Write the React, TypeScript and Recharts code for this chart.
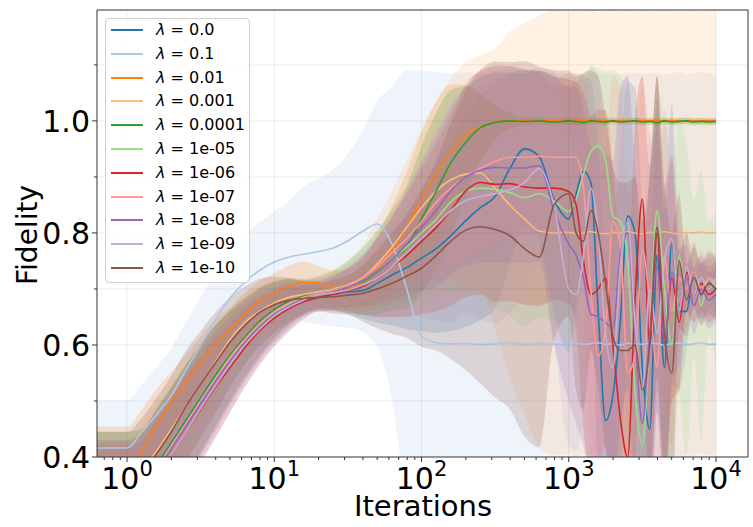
import React from 'react';
import { ComposedChart, Line, Area, XAxis, YAxis, ReferenceLine, Customized } from 'recharts';

// Iteration sample points (log-spaced)
const iterations = [
  0.625, 1, 1.26, 1.58, 2, 2.51, 3.16, 3.98, 5.01, 6.31,
  7.94, 10, 12.6, 15.8, 20, 25.1, 31.6, 39.8, 50.1, 63.1,
  79.4, 100, 126, 158, 200, 251, 316, 398, 501, 631,
  794, 1000, 1122, 1259, 1413, 1585, 1778, 1995, 2239, 2512,
  2818, 3162, 3548, 3981, 4467, 5012, 5623, 6310, 7079, 7943,
  8913, 10000,
];

const lambdaLabels = ['0.0', '0.1', '0.01', '0.001', '0.0001', '1e-05', '1e-06', '1e-07', '1e-08', '1e-09', '1e-10'];
const colors = ['#1f77b4', '#aec7e8', '#ff7f0e', '#ffbb78', '#2ca02c', '#98df8a', '#d62728', '#ff9896', '#9467bd', '#c5b0d5', '#8c564b'];

// λ = 0.0
const meanL0 = [
  0.335, 0.335, 0.35, 0.385, 0.425, 0.465, 0.505, 0.545, 0.58, 0.612,
  0.64, 0.662, 0.677, 0.686, 0.69, 0.693, 0.695, 0.697, 0.71, 0.725,
  0.738, 0.755, 0.772, 0.795, 0.822, 0.845, 0.865, 0.915, 0.95, 0.936,
  0.86, 0.825, 0.87, 0.91, 0.89, 0.66, 0.465, 0.51, 0.64, 0.83,
  0.8, 0.56, 0.45, 0.76, 0.56, 0.78, 0.66, 0.66, 0.73, 0.69,
  0.71, 0.7,
];
const stdL0 = [
  0.09, 0.09, 0.095, 0.1, 0.1, 0.1, 0.095, 0.09, 0.08, 0.07,
  0.06, 0.05, 0.04, 0.03, 0.025, 0.03, 0.04, 0.05, 0.07, 0.09,
  0.11, 0.13, 0.15, 0.17, 0.19, 0.2, 0.2, 0.17, 0.14, 0.15,
  0.2, 0.24, 0.2, 0.17, 0.18, 0.3, 0.3, 0.3, 0.3, 0.24,
  0.26, 0.3, 0.3, 0.28, 0.3, 0.25, 0.14, 0.07, 0.05, 0.05,
  0.045, 0.045,
];

// λ = 0.1
const meanL1 = [
  0.416, 0.416, 0.445, 0.475, 0.51, 0.555, 0.6, 0.645, 0.684, 0.712,
  0.733, 0.748, 0.757, 0.762, 0.767, 0.773, 0.786, 0.803, 0.816, 0.78,
  0.7, 0.615, 0.604, 0.602, 0.603, 0.601, 0.602, 0.604, 0.601, 0.603,
  0.602, 0.6, 0.603, 0.601, 0.602, 0.604, 0.601, 0.602, 0.6, 0.603,
  0.602, 0.601, 0.603, 0.602, 0.6, 0.602, 0.603, 0.601, 0.602, 0.604,
  0.601, 0.602,
];
const stdL1 = [
  0.085, 0.085, 0.085, 0.085, 0.085, 0.085, 0.085, 0.085, 0.085, 0.085,
  0.085, 0.09, 0.1, 0.12, 0.13, 0.14, 0.155, 0.18, 0.22, 0.28,
  0.39, 0.475, 0.483, 0.483, 0.484, 0.483, 0.482, 0.483, 0.484, 0.483,
  0.483, 0.484, 0.482, 0.483, 0.483, 0.484, 0.483, 0.482, 0.483, 0.484,
  0.483, 0.483, 0.482, 0.484, 0.483, 0.483, 0.484, 0.482, 0.483, 0.483,
  0.484, 0.483,
];

// λ = 0.01
const meanL2 = [
  0.37, 0.37, 0.41, 0.455, 0.497, 0.533, 0.567, 0.6, 0.627, 0.655,
  0.678, 0.692, 0.705, 0.712, 0.711, 0.703, 0.7, 0.712, 0.735, 0.77,
  0.81, 0.86, 0.905, 0.945, 0.975, 0.99, 0.998, 1.0, 1.0, 1.0,
  1.0, 1.0, 1.0, 1.0, 1.0, 1.0, 1.0, 1.0, 1.0, 1.0,
  1.0, 1.0, 1.0, 1.0, 1.0, 1.0, 1.0, 1.0, 1.0, 1.0,
  1.0, 1.0,
];
const stdL2 = [
  0.084, 0.084, 0.075, 0.065, 0.055, 0.05, 0.048, 0.045, 0.04, 0.038,
  0.036, 0.036, 0.037, 0.037, 0.03, 0.03, 0.035, 0.045, 0.06, 0.08,
  0.1, 0.12, 0.13, 0.12, 0.09, 0.06, 0.03, 0.012, 0.005, 0.005,
  0.005, 0.005, 0.005, 0.005, 0.005, 0.005, 0.005, 0.005, 0.005, 0.005,
  0.005, 0.005, 0.005, 0.005, 0.005, 0.005, 0.005, 0.005, 0.005, 0.005,
  0.005, 0.005,
];

// λ = 0.001
const meanL3 = [
  0.35, 0.35, 0.375, 0.41, 0.45, 0.49, 0.53, 0.57, 0.61, 0.64,
  0.66, 0.675, 0.685, 0.69, 0.695, 0.7, 0.707, 0.72, 0.745, 0.775,
  0.81, 0.845, 0.875, 0.895, 0.905, 0.907, 0.88, 0.85, 0.825, 0.803,
  0.8, 0.801, 0.799, 0.8, 0.802, 0.8, 0.799, 0.801, 0.8, 0.802,
  0.8, 0.799, 0.801, 0.8, 0.802, 0.8, 0.799, 0.801, 0.8, 0.802,
  0.8, 0.801,
];
const stdL3 = [
  0.08, 0.08, 0.08, 0.08, 0.075, 0.07, 0.065, 0.06, 0.055, 0.05,
  0.045, 0.04, 0.035, 0.03, 0.03, 0.035, 0.045, 0.06, 0.08, 0.1,
  0.12, 0.14, 0.16, 0.18, 0.2, 0.21, 0.25, 0.31, 0.35, 0.385,
  0.397, 0.395, 0.398, 0.396, 0.399, 0.394, 0.397, 0.398, 0.395, 0.397,
  0.396, 0.399, 0.394, 0.397, 0.398, 0.395, 0.397, 0.396, 0.398, 0.394,
  0.397, 0.396,
];

// λ = 0.0001
const meanL4 = [
  0.345, 0.345, 0.35, 0.385, 0.425, 0.465, 0.505, 0.545, 0.582, 0.614,
  0.642, 0.663, 0.678, 0.687, 0.692, 0.697, 0.705, 0.713, 0.73, 0.752,
  0.775, 0.825, 0.875, 0.925, 0.962, 0.988, 0.997, 1.0, 0.999, 1.0,
  0.998, 1.0, 0.999, 0.997, 1.0, 0.999, 0.998, 1.0, 0.998, 0.999,
  1.0, 0.998, 0.999, 0.997, 1.0, 0.998, 0.999, 1.0, 0.998, 0.999,
  0.998, 0.999,
];
const stdL4 = [
  0.1, 0.1, 0.1, 0.1, 0.1, 0.1, 0.098, 0.09, 0.08, 0.07,
  0.06, 0.05, 0.04, 0.03, 0.03, 0.035, 0.045, 0.06, 0.075, 0.09,
  0.11, 0.13, 0.14, 0.13, 0.1, 0.06, 0.03, 0.015, 0.007, 0.006,
  0.006, 0.006, 0.006, 0.006, 0.006, 0.006, 0.006, 0.006, 0.006, 0.006,
  0.006, 0.006, 0.006, 0.006, 0.006, 0.006, 0.006, 0.006, 0.006, 0.006,
  0.006, 0.006,
];

// λ = 1e-05
const meanL5 = [
  0.335, 0.335, 0.345, 0.38, 0.42, 0.46, 0.5, 0.54, 0.575, 0.607,
  0.635, 0.657, 0.672, 0.683, 0.69, 0.695, 0.703, 0.715, 0.732, 0.752,
  0.775, 0.8, 0.825, 0.855, 0.875, 0.88, 0.878, 0.872, 0.863, 0.87,
  0.857, 0.838, 0.86, 0.905, 0.945, 0.955, 0.93, 0.83, 0.82, 0.75,
  0.52, 0.42, 0.62, 0.84, 0.7, 0.6, 0.76, 0.68, 0.72, 0.67,
  0.72, 0.7,
];
const stdL5 = [
  0.1, 0.1, 0.1, 0.1, 0.1, 0.1, 0.095, 0.09, 0.08, 0.07,
  0.06, 0.05, 0.04, 0.03, 0.025, 0.03, 0.04, 0.05, 0.065, 0.08,
  0.1, 0.12, 0.14, 0.16, 0.18, 0.2, 0.21, 0.22, 0.23, 0.22,
  0.22, 0.24, 0.22, 0.18, 0.15, 0.14, 0.16, 0.26, 0.26, 0.3,
  0.32, 0.3, 0.3, 0.22, 0.3, 0.28, 0.25, 0.28, 0.14, 0.24,
  0.1, 0.14,
];

// λ = 1e-06
const meanL6 = [
  0.32, 0.32, 0.33, 0.365, 0.405, 0.445, 0.485, 0.525, 0.56, 0.595,
  0.625, 0.648, 0.665, 0.677, 0.685, 0.69, 0.697, 0.705, 0.72, 0.74,
  0.76, 0.785, 0.81, 0.84, 0.875, 0.89, 0.887, 0.888, 0.882, 0.88,
  0.88, 0.874, 0.85, 0.75, 0.69, 0.7, 0.72, 0.6, 0.47, 0.4,
  0.68, 0.86, 0.6, 0.8, 0.6, 0.72, 0.64, 0.73, 0.69, 0.71,
  0.69, 0.7,
];
const stdL6 = [
  0.1, 0.1, 0.1, 0.1, 0.1, 0.1, 0.095, 0.09, 0.08, 0.07,
  0.06, 0.05, 0.04, 0.03, 0.025, 0.03, 0.04, 0.05, 0.07, 0.09,
  0.11, 0.13, 0.15, 0.17, 0.19, 0.2, 0.21, 0.21, 0.21, 0.21,
  0.2, 0.2, 0.22, 0.3, 0.32, 0.32, 0.3, 0.32, 0.3, 0.3,
  0.32, 0.22, 0.32, 0.28, 0.28, 0.22, 0.12, 0.07, 0.05, 0.05,
  0.05, 0.05,
];

// λ = 1e-07
const meanL7 = [
  0.335, 0.335, 0.345, 0.38, 0.42, 0.46, 0.5, 0.54, 0.578, 0.61,
  0.638, 0.66, 0.675, 0.685, 0.692, 0.697, 0.705, 0.72, 0.74, 0.765,
  0.79, 0.82, 0.855, 0.88, 0.9, 0.915, 0.928, 0.935, 0.935, 0.937,
  0.935, 0.935, 0.935, 0.88, 0.7, 0.58, 0.63, 0.82, 0.78, 0.55,
  0.58, 0.77, 0.68, 0.56, 0.76, 0.66, 0.72, 0.7, 0.73, 0.7,
  0.72, 0.71,
];
const stdL7 = [
  0.095, 0.095, 0.1, 0.1, 0.1, 0.1, 0.095, 0.09, 0.08, 0.07,
  0.06, 0.05, 0.04, 0.03, 0.025, 0.03, 0.035, 0.04, 0.055, 0.07,
  0.09, 0.11, 0.13, 0.14, 0.15, 0.15, 0.15, 0.14, 0.14, 0.14,
  0.14, 0.15, 0.15, 0.2, 0.3, 0.32, 0.32, 0.26, 0.28, 0.32,
  0.32, 0.3, 0.3, 0.3, 0.26, 0.24, 0.13, 0.07, 0.055, 0.05,
  0.05, 0.05,
];

// λ = 1e-08
const meanL8 = [
  0.33, 0.33, 0.34, 0.375, 0.415, 0.455, 0.495, 0.535, 0.572, 0.605,
  0.633, 0.655, 0.67, 0.682, 0.69, 0.695, 0.703, 0.715, 0.732, 0.752,
  0.78, 0.81, 0.84, 0.875, 0.9, 0.912, 0.917, 0.916, 0.916, 0.92,
  0.84, 0.78, 0.76, 0.72, 0.655, 0.65, 0.64, 0.63, 0.76, 0.8,
  0.62, 0.46, 0.62, 0.74, 0.6, 0.73, 0.67, 0.72, 0.67, 0.7,
  0.68, 0.69,
];
const stdL8 = [
  0.1, 0.1, 0.1, 0.1, 0.1, 0.1, 0.095, 0.09, 0.08, 0.07,
  0.06, 0.05, 0.04, 0.03, 0.025, 0.03, 0.035, 0.045, 0.06, 0.075,
  0.095, 0.115, 0.135, 0.15, 0.16, 0.165, 0.17, 0.17, 0.17, 0.17,
  0.24, 0.28, 0.3, 0.3, 0.3, 0.3, 0.3, 0.3, 0.3, 0.28,
  0.3, 0.3, 0.28, 0.26, 0.24, 0.2, 0.1, 0.06, 0.05, 0.05,
  0.05, 0.05,
];

// λ = 1e-09
const meanL9 = [
  0.32, 0.32, 0.33, 0.365, 0.405, 0.445, 0.487, 0.527, 0.565, 0.6,
  0.628, 0.652, 0.668, 0.68, 0.69, 0.693, 0.698, 0.707, 0.72, 0.74,
  0.765, 0.79, 0.815, 0.84, 0.858, 0.865, 0.87, 0.877, 0.89, 0.915,
  0.85, 0.7, 0.69, 0.76, 0.88, 0.8, 0.62, 0.56, 0.74, 0.82,
  0.64, 0.52, 0.7, 0.62, 0.75, 0.79, 0.66, 0.74, 0.69, 0.72,
  0.7, 0.72,
];
const stdL9 = [
  0.105, 0.105, 0.105, 0.105, 0.105, 0.105, 0.1, 0.095, 0.085, 0.075,
  0.065, 0.055, 0.045, 0.035, 0.03, 0.03, 0.04, 0.05, 0.07, 0.09,
  0.11, 0.14, 0.17, 0.2, 0.2, 0.22, 0.23, 0.22, 0.2, 0.18,
  0.24, 0.28, 0.28, 0.28, 0.22, 0.28, 0.3, 0.3, 0.3, 0.26,
  0.3, 0.28, 0.28, 0.26, 0.24, 0.2, 0.1, 0.06, 0.05, 0.05,
  0.05, 0.05,
];

// λ = 1e-10
const meanL10 = [
  0.345, 0.345, 0.37, 0.405, 0.445, 0.49, 0.53, 0.568, 0.605, 0.635,
  0.658, 0.672, 0.68, 0.683, 0.685, 0.686, 0.689, 0.692, 0.7, 0.71,
  0.723, 0.737, 0.76, 0.785, 0.805, 0.811, 0.806, 0.795, 0.772, 0.757,
  0.85, 0.87, 0.8, 0.785, 0.84, 0.8, 0.71, 0.615, 0.59, 0.59,
  0.6, 0.52, 0.6, 0.81, 0.62, 0.55, 0.75, 0.68, 0.72, 0.69,
  0.71, 0.7,
];
const stdL10 = [
  0.1, 0.1, 0.1, 0.1, 0.1, 0.1, 0.095, 0.09, 0.08, 0.07,
  0.06, 0.05, 0.04, 0.03, 0.025, 0.03, 0.035, 0.05, 0.07, 0.09,
  0.11, 0.14, 0.17, 0.21, 0.25, 0.28, 0.3, 0.31, 0.335, 0.34,
  0.24, 0.22, 0.28, 0.3, 0.25, 0.28, 0.3, 0.3, 0.3, 0.3,
  0.3, 0.3, 0.3, 0.27, 0.27, 0.25, 0.12, 0.065, 0.055, 0.055,
  0.055, 0.055,
];

const means = [meanL0, meanL1, meanL2, meanL3, meanL4, meanL5, meanL6, meanL7, meanL8, meanL9, meanL10];
const stds = [stdL0, stdL1, stdL2, stdL3, stdL4, stdL5, stdL6, stdL7, stdL8, stdL9, stdL10];

const xMajorTicks = [1, 10, 100, 1000, 10000];
const xMinorTicks = [
  0.7, 0.8, 0.9,
  2, 3, 4, 5, 6, 7, 8, 9,
  20, 30, 40, 50, 60, 70, 80, 90,
  200, 300, 400, 500, 600, 700, 800, 900,
  2000, 3000, 4000, 5000, 6000, 7000, 8000, 9000,
];
const xDomain = [0.625, 16500];
const yTicks = [0.4, 0.5, 0.6, 0.7, 0.8, 0.9, 1.0, 1.1];
const yGridLines = [0.5, 0.6, 0.7, 0.8, 0.9, 1.0, 1.1];
const yLabeledTicks = [0.4, 0.6, 0.8, 1.0];
const yDomain = [0.4, 1.198];

const data = iterations.map((it, i) => {
  const row: Record<string, any> = { it };
  means.forEach((m, s) => {
    row['m' + s] = m[i];
    row['b' + s] = [m[i] - stds[s][i], m[i] + stds[s][i]];
  });
  return row;
});

const FONT = 'DejaVu Sans';
const SPINE = '#333333';

const XTick = (props: any) => {
  const { x, y, payload } = props;
  const v = payload.value;
  const isMajor = xMajorTicks.includes(v);
  const exp = Math.round(Math.log10(v));
  return (
    <g>
      <line x1={x} x2={x} y1={y} y2={y + (isMajor ? 5 : 3)} stroke={SPINE} strokeWidth={1} />
      {isMajor && (
        <text x={x} y={y + 32} textAnchor="middle" fontFamily={FONT} fontSize={30} fill="#000">
          <tspan>10</tspan>
          <tspan dy={-13} fontSize={21}>{exp}</tspan>
        </text>
      )}
    </g>
  );
};

const YTick = (props: any) => {
  const { x, y, payload } = props;
  const v = payload.value;
  const isMajor = yLabeledTicks.some((t) => Math.abs(t - v) < 1e-9);
  return (
    <g>
      <line x1={x} x2={x - (isMajor ? 5 : 3)} y1={y} y2={y} stroke={SPINE} strokeWidth={1} />
      {isMajor && (
        <text x={x - 7} y={y + 11} textAnchor="end" fontFamily={FONT} fontSize={30} fill="#000">
          {v.toFixed(1)}
        </text>
      )}
    </g>
  );
};

const AxisTitles = () => (
  <g>
    <text x={423} y={516} textAnchor="middle" fontFamily={FONT} fontSize={29} fill="#000">
      Iterations
    </text>
    <text x={37} y={235} textAnchor="middle" fontFamily={FONT} fontSize={28} fill="#000" transform="rotate(-90 37 235)">
      Fidelity
    </text>
  </g>
);

const LegendBox = () => (
  <div
    style={{
      position: 'absolute',
      left: 105,
      top: 18,
      width: 145,
      height: 265,
      boxSizing: 'border-box',
      border: '1px solid #d0d0d0',
      borderRadius: 4,
      background: 'rgba(255,255,255,0.8)',
      fontFamily: FONT,
      fontSize: 16,
      color: '#000',
    }}
  >
    {lambdaLabels.map((lab, i) => (
      <div key={lab} style={{ position: 'absolute', left: 5, top: 1 + i * 23.8, height: 20, width: 136 }}>
        <div style={{ position: 'absolute', left: 0, top: 9, width: 32, height: 2, background: colors[i] }} />
        <div style={{ position: 'absolute', left: 45, top: 0, lineHeight: '20px', whiteSpace: 'nowrap' }}>
          <i>λ</i> = {lab}
        </div>
      </div>
    ))}
  </div>
);

export default function App() {
  return (
    <div style={{ position: 'absolute', left: 0, top: 0, width: 753, height: 527, background: '#fff' }}>
      <ComposedChart width={753} height={527} data={data} margin={{ top: 10, right: 5, left: 0, bottom: 0 }}>
        <XAxis
          dataKey="it"
          type="number"
          scale="log"
          domain={xDomain}
          allowDataOverflow
          ticks={[...xMinorTicks, ...xMajorTicks].sort((a, b) => a - b)}
          interval={0}
          tick={<XTick />}
          tickLine={false}
          tickSize={0}
          tickMargin={0}
          height={70}
          axisLine={{ stroke: SPINE, strokeWidth: 1 }}
        />
        <YAxis
          type="number"
          domain={yDomain}
          allowDataOverflow
          ticks={yTicks}
          interval={0}
          tick={<YTick />}
          tickLine={false}
          tickSize={0}
          tickMargin={0}
          width={97}
          axisLine={{ stroke: SPINE, strokeWidth: 1 }}
        />
        {colors.map((c, i) => (
          <Area
            key={'a' + i}
            dataKey={'b' + i}
            type="monotone"
            stroke="none"
            fill={c}
            fillOpacity={0.2}
            isAnimationActive={false}
            activeDot={false}
            dot={false}
          />
        ))}
        {colors.map((c, i) => (
          <Line
            key={'l' + i}
            dataKey={'m' + i}
            type="monotone"
            stroke={c}
            strokeWidth={1.6}
            dot={false}
            activeDot={false}
            isAnimationActive={false}
          />
        ))}
        {xMajorTicks.map((v) => (
          <ReferenceLine key={'vg' + v} x={v} stroke="#000" strokeOpacity={0.07} strokeWidth={1} />
        ))}
        {yGridLines.map((v) => (
          <ReferenceLine key={'hg' + v} y={v} stroke="#000" strokeOpacity={0.07} strokeWidth={1} />
        ))}
        <ReferenceLine y={yDomain[1]} stroke={SPINE} strokeWidth={1} />
        <ReferenceLine x={xDomain[1]} stroke={SPINE} strokeWidth={1} />
        <Customized component={AxisTitles} />
      </ComposedChart>
      <LegendBox />
    </div>
  );
}
